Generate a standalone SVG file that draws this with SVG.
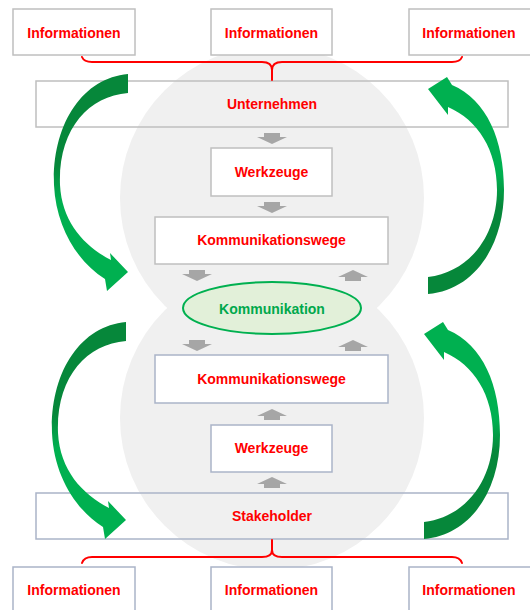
<svg xmlns="http://www.w3.org/2000/svg" xmlns:xlink="http://www.w3.org/1999/xlink" width="530" height="610" viewBox="0 0 530 610">
  <style>
    .box { fill: #ffffff; stroke: #bfbfbf; stroke-width: 1.5; }
    .boxb { fill: #ffffff; stroke: #aab4c8; stroke-width: 1.5; }
    .open { fill: none; }
    .lbl { font-family: "Liberation Sans", Arial, sans-serif; font-weight: bold; font-size: 14px; fill: #ff0000; text-anchor: middle; }
    .klbl { font-family: "Liberation Sans", Arial, sans-serif; font-weight: bold; font-size: 14px; fill: #00a84c; text-anchor: middle; }
    .brace { fill: none; stroke: #ff0000; stroke-width: 2; stroke-linecap: round; }
    .garr { fill: #a6a6a6; }
  </style>
  <defs>
    <linearGradient id="gDown" gradientUnits="userSpaceOnUse" x1="0" y1="74" x2="0" y2="292">
      <stop offset="0" stop-color="#06873a"/>
      <stop offset="0.42" stop-color="#06873a"/>
      <stop offset="0.58" stop-color="#00b050"/>
      <stop offset="1" stop-color="#00b050"/>
    </linearGradient>
    <linearGradient id="gUp" gradientUnits="userSpaceOnUse" x1="0" y1="76" x2="0" y2="294">
      <stop offset="0" stop-color="#00b050"/>
      <stop offset="0.45" stop-color="#00b050"/>
      <stop offset="0.6" stop-color="#06873a"/>
      <stop offset="1" stop-color="#06873a"/>
    </linearGradient>
    <path id="dn" d="M-8,0 H8 V4 H15 L0,11 L-15,4 H-8 Z"/>
    <path id="up" d="M-8,11 H8 V7 H15 L0,0 L-15,7 H-8 Z"/>
    <path id="arrL" d="M128,74 C82,78 52,125 54,185 C56,228 78,262 105,279 L107,291 L128,272 L110,253 L111,260 C84,246 62,222 60,185 C58,130 88,96 128,93 Z"/>
    <path id="arrR" d="M428,277 C470,272 497,235 497,190 C497,150 478,120 448,107 L448,115 L428,89 L447,77 L452,85 C487,100 504,140 504,190 C504,245 475,290 428,294 Z"/>
  </defs>

  <g id="background">
    <circle cx="272" cy="198" r="152" fill="#f0f0f0"/>
    <circle cx="272" cy="418" r="152" fill="#f0f0f0"/>
  </g>

  <g id="info-top-1"><rect class="box" x="13" y="9" width="122" height="46"/><text class="lbl" x="74" y="38">Informationen</text></g>
  <g id="info-top-2"><rect class="box" x="211" y="9" width="121" height="46"/><text class="lbl" x="271.5" y="38">Informationen</text></g>
  <g id="info-top-3"><rect class="box" x="409" y="9" width="122" height="46"/><text class="lbl" x="469" y="38">Informationen</text></g>

  <g id="unternehmen"><rect class="box open" x="36" y="81" width="472" height="46"/><text class="lbl" x="272" y="109">Unternehmen</text></g>
  <g id="werkzeuge-top"><rect class="box" x="211" y="148" width="121" height="48"/><text class="lbl" x="271.5" y="177">Werkzeuge</text></g>
  <g id="kommunikationswege-top"><rect class="box" x="155" y="217" width="233" height="47"/><text class="lbl" x="271.5" y="245">Kommunikationswege</text></g>

  <g id="kommunikation"><ellipse cx="272" cy="308" rx="89" ry="26" fill="#e2f0d9" stroke="#00b050" stroke-width="2"/><text class="klbl" x="272" y="314">Kommunikation</text></g>

  <g id="kommunikationswege-bottom"><rect class="boxb" x="155" y="355" width="233" height="48"/><text class="lbl" x="271.5" y="384">Kommunikationswege</text></g>
  <g id="werkzeuge-bottom"><rect class="boxb" x="211" y="425" width="121" height="47"/><text class="lbl" x="271.5" y="453">Werkzeuge</text></g>
  <g id="stakeholder"><rect class="boxb open" x="36" y="493" width="472" height="46"/><text class="lbl" x="272" y="521">Stakeholder</text></g>

  <g id="info-bottom-1"><rect class="boxb" x="13" y="567" width="122" height="46"/><text class="lbl" x="74" y="595">Informationen</text></g>
  <g id="info-bottom-2"><rect class="boxb" x="211" y="567" width="121" height="46"/><text class="lbl" x="271.5" y="595">Informationen</text></g>
  <g id="info-bottom-3"><rect class="boxb" x="409" y="567" width="122" height="46"/><text class="lbl" x="469" y="595">Informationen</text></g>

  <g id="connectors">
    <path class="brace" d="M82,57 Q84,62 92,62 L262,62 Q272,62 272,70 Q272,62 282,62 L452,62 Q460,62 462,57 M272,70 L272,80"/>
    <path class="brace" d="M272,540 L272,550 Q272,557 262,557 L92,557 Q84,557 82,563 M272,550 Q272,557 282,557 L452,557 Q460,557 462,563"/>

    <use class="garr" href="#dn" x="272" y="133"/>
    <use class="garr" href="#dn" x="272" y="202"/>
    <use class="garr" href="#dn" x="197" y="270"/>
    <use class="garr" href="#up" x="353" y="270"/>
    <use class="garr" href="#dn" x="197" y="340"/>
    <use class="garr" href="#up" x="353" y="340"/>
    <use class="garr" href="#up" x="272" y="409"/>
    <use class="garr" href="#up" x="272" y="477"/>

    <use href="#arrL" fill="url(#gDown)"/>
    <use href="#arrR" fill="url(#gUp)"/>
    <use href="#arrL" fill="url(#gDown)" transform="translate(-2,248)"/>
    <use href="#arrR" fill="url(#gUp)" transform="translate(-4,245)"/>
  </g>
</svg>
